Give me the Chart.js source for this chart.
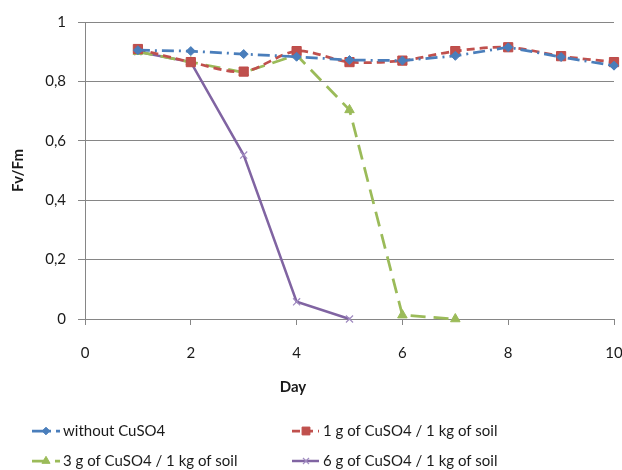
<!DOCTYPE html>
<html><head><meta charset="utf-8">
<script src="https://cdn.jsdelivr.net/npm/chart.js@4"></script>
<style>html,body{margin:0;padding:0;background:#fff;}#wrap{width:622px;height:470px;}</style>
</head><body><div id="wrap"><canvas id="c" width="622" height="470"></canvas></div>
<script>
const days = [1, 2, 3, 4, 5, 6, 7, 8, 9, 10];
const seriesNames = ['without CuSO4', '1 g of CuSO4 / 1 kg of soil', '3 g of CuSO4 / 1 kg of soil', '6 g of CuSO4 / 1 kg of soil'];
const withoutCu = [0.905, 0.902, 0.892, 0.883, 0.872, 0.870, 0.886, 0.915, 0.882, 0.853];
const cu1 = [0.909, 0.865, 0.833, 0.902, 0.865, 0.870, 0.902, 0.915, 0.885, 0.865];
const cu3 = [0.900, 0.865, 0.830, 0.889, 0.704, 0.013, 0.000];
const cu6 = [0.900, 0.865, 0.552, 0.058, 0.000];
const xTicks = [0, 2, 4, 6, 8, 10];
const yTicks = [0, 0.2, 0.4, 0.6, 0.8, 1];
const xTitle = 'Day';
const yTitle = 'Fv/Fm';

const FONT = 'Lato, "Open Sans", sans-serif';
const pts = arr => arr.map((v, i) => ({x: days[i], y: v}));

const legendPlugin = {
  id: 'gridLegend',
  afterDraw(chart) {
    const ctx = chart.ctx;
    const cols = [{l: 32, r: 60, m: 46, t: 63}, {l: 292, r: 319, m: 306, t: 323}];
    const rows = [431, 461];
    chart.data.datasets.forEach((ds, i) => {
      const c = cols[i % 2], y = rows[Math.floor(i / 2)];
      ctx.save();
      ctx.strokeStyle = ds.borderColor;
      ctx.lineWidth = ds.borderWidth;
      ctx.setLineDash(ds.borderDash || []);
      ctx.beginPath(); ctx.moveTo(c.l, y); ctx.lineTo(c.r, y); ctx.stroke();
      ctx.setLineDash([]);
      ctx.fillStyle = ds.pointBackgroundColor;
      ctx.strokeStyle = ds.pointBorderColor;
      ctx.lineWidth = ds.pointBorderWidth;
      Chart.helpers.drawPoint(ctx, {pointStyle: ds.pointStyle, radius: ds.pointRadius * 0.85, borderWidth: ds.pointBorderWidth, rotation: 0}, c.m, y);
      ctx.fillStyle = '#1a1a1a';
      ctx.font = '15px ' + FONT;
      ctx.textBaseline = 'middle';
      ctx.textAlign = 'left';
      ctx.fillText(seriesNames[i], c.t, y);
      ctx.restore();
    });
    ctx.save();
    ctx.fillStyle = '#1a1a1a';
    ctx.font = 'bold 15px ' + FONT;
    ctx.textAlign = 'center';
    ctx.textBaseline = 'middle';
    ctx.fillText(xTitle, 293, 387);
    ctx.restore();
  }
};

new Chart(document.getElementById('c'), {
  type: 'line',
  data: {
    datasets: [
      {label: seriesNames[0], data: pts(withoutCu), borderColor: '#4A7EBB', backgroundColor: '#4A7EBB',
       borderWidth: 2.75, borderDash: [12, 5, 2, 5], pointStyle: 'rectRot', pointRadius: 4.5,
       pointBackgroundColor: '#4A7EBB', pointBorderColor: '#4A7EBB', pointBorderWidth: 1, tension: 0},
      {label: seriesNames[1], data: pts(cu1), borderColor: '#C0504D', backgroundColor: '#C0504D',
       borderWidth: 2.75, borderDash: [8, 5], pointStyle: 'rect', pointRadius: 6.5,
       pointBackgroundColor: '#C0504D', pointBorderColor: '#BE4B48', pointBorderWidth: 1, tension: 0.3},
      {label: seriesNames[2], data: pts(cu3), borderColor: '#9BBB59', backgroundColor: '#9BBB59',
       borderWidth: 2.75, borderDash: [15, 8], pointStyle: 'triangle', pointRadius: 5.5,
       pointBackgroundColor: '#9BBB59', pointBorderColor: '#9BBB59', pointBorderWidth: 1, tension: 0},
      {label: seriesNames[3], data: pts(cu6), borderColor: '#8064A2', backgroundColor: '#8064A2',
       borderWidth: 2.5, borderDash: [], pointStyle: 'crossRot', pointRadius: 5,
       pointBackgroundColor: '#A08BC0', pointBorderColor: '#A08BC0', pointBorderWidth: 1.2, tension: 0}
    ]
  },
  options: {
    responsive: false,
    animation: false,
    layout: {padding: {left: 0, right: 8, top: 22, bottom: 70}},
    plugins: {legend: {display: false}, tooltip: {enabled: false}},
    elements: {line: {fill: false}},
    datasets: {line: {clip: false}},
    scales: {
      x: {
        type: 'linear', min: 0, max: 10,
        afterBuildTicks: s => { s.ticks = xTicks.map(v => ({value: v})); },
        ticks: {font: {family: FONT, size: 15}, color: '#1a1a1a', padding: 19, maxRotation: 0},
        grid: {drawOnChartArea: false, drawTicks: true, tickLength: 6, color: '#868686'},
        border: {color: '#868686', width: 1},
        afterFit: s => { s.height = 81; s.paddingLeft = 0; s.paddingRight = 0; }
      },
      y: {
        min: 0, max: 1,
        afterBuildTicks: s => { s.ticks = yTicks.map(v => ({value: v})); },
        ticks: {font: {family: FONT, size: 15}, color: '#1a1a1a', padding: 12,
                callback: v => String(Math.round(v * 10) / 10).replace('.', ',')},
        grid: {color: '#868686', tickLength: 7, lineWidth: 1},
        border: {color: '#868686', width: 1},
        title: {display: true, text: yTitle, font: {family: FONT, size: 15, weight: 'bold'}, color: '#1a1a1a', padding: {top: 9, bottom: 0}},
        afterFit: s => { s.width = 85; s.paddingTop = 0; s.paddingBottom = 0; }
      }
    }
  },
  plugins: [legendPlugin]
});
</script>
</body></html>
